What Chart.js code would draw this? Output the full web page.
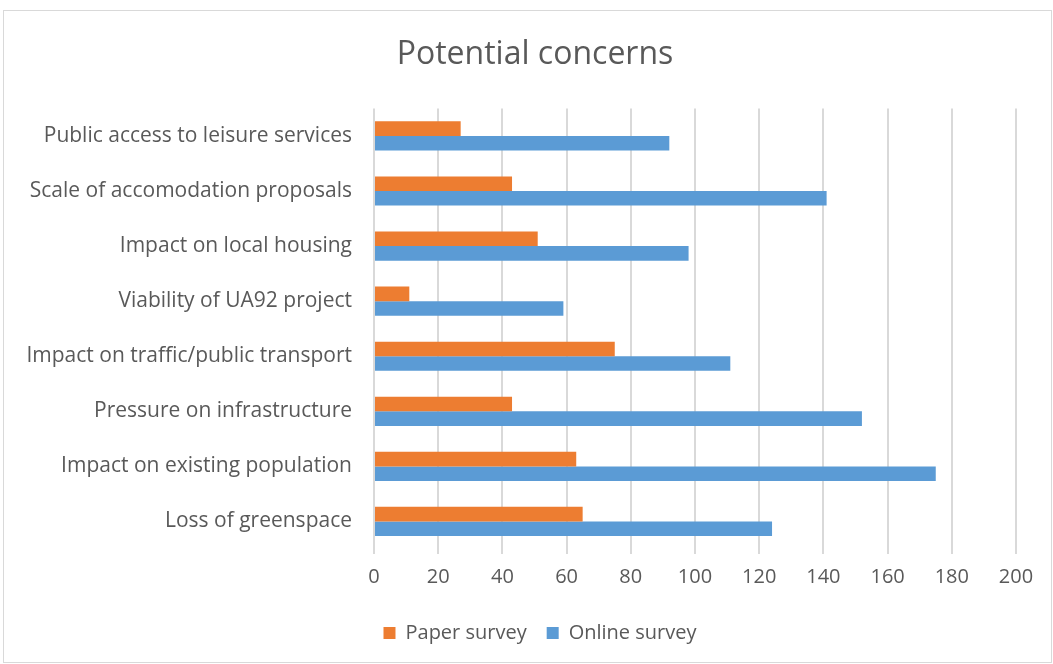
<!DOCTYPE html>
<html>
<head>
<meta charset="utf-8">
<script src="https://cdn.jsdelivr.net/npm/chart.js@4/dist/chart.umd.min.js"></script>
<style>
    html, body { margin: 0; padding: 0; background: #fff; }
    #frame {
        position: absolute; left: 3px; top: 10px;
        width: 1049px; height: 653px;
        border: 1px solid #d9d9d9; box-sizing: border-box;
    }
    #wrap { position: absolute; left: 0; top: 0; width: 1053px; height: 664px; }
</style>
</head>
<body>
<div id="frame"></div>
<div id="wrap"><canvas id="concerns-chart" width="1053" height="664"></canvas></div>
<script>
const concerns = [
    "Public access to leisure services",
    "Scale of accomodation proposals",
    "Impact on local housing",
    "Viability of UA92 project",
    "Impact on traffic/public transport",
    "Pressure on infrastructure",
    "Impact on existing population",
    "Loss of greenspace",
];
const paperSurvey = [27, 43, 51, 11, 75, 43, 63, 65];
const onlineSurvey = [92, 141, 98, 59, 111, 152, 175, 124];
const xTicks = [0, 20, 40, 60, 80, 100, 120, 140, 160, 180, 200];

const textGrey = "#595959";
const fontFace = "'Open Sans', sans-serif";

// title and legend sit centred on the whole frame, not on the plot box
const recentreBlocks = {
    id: "recentreBlocks",
    afterLayout(chart) {
        if (chart.titleBlock) chart.titleBlock.left = 54;
        if (chart.legend) {
            chart.legend.left = 64;
            chart.legend.top += 3;
        }
    },
};

const ctx = document.querySelector("#concerns-chart").getContext("2d");

new Chart(ctx, {
    type: "bar",
    data: {
        labels: concerns,
        datasets: [
            {
                label: "Paper survey",
                data: paperSurvey,
                backgroundColor: "#ed7d31",
                categoryPercentage: 0.53,
                barPercentage: 1,
            },
            {
                label: "Online survey",
                data: onlineSurvey,
                backgroundColor: "#5b9bd5",
                categoryPercentage: 0.53,
                barPercentage: 1,
            },
        ],
    },
    options: {
        responsive: false,
        animation: false,
        indexAxis: "y",
        layout: {
            padding: { left: 0, right: 37, top: 0, bottom: 14 },
        },
        scales: {
            x: {
                min: 0,
                max: 200,
                afterBuildTicks: (scale) => {
                    scale.ticks = xTicks.map((v) => ({ value: v }));
                },
                grid: {
                    color: "#d9d9d9",
                    lineWidth: 2,
                    tickLength: 5,
                },
                border: { display: false },
                ticks: {
                    color: textGrey,
                    padding: 11,
                    font: { family: fontFace, size: 20 },
                },
            },
            y: {
                grid: { display: false, drawTicks: false },
                border: { display: false },
                afterFit: (scale) => {
                    scale.width = 374;
                },
                ticks: {
                    color: textGrey,
                    padding: 22,
                    font: { family: fontFace, size: 21 },
                },
            },
        },
        plugins: {
            title: {
                display: true,
                text: "Potential concerns",
                color: textGrey,
                font: { family: fontFace, size: 32, weight: "normal" },
                padding: { top: 36, bottom: 34 },
            },
            legend: {
                position: "bottom",
                labels: {
                    color: textGrey,
                    boxWidth: 12,
                    boxHeight: 12,
                    padding: 20,
                    font: { family: fontFace, size: 20 },
                },
            },
            tooltip: { enabled: false },
        },
    },
    plugins: [recentreBlocks],
});
</script>
</body>
</html>
